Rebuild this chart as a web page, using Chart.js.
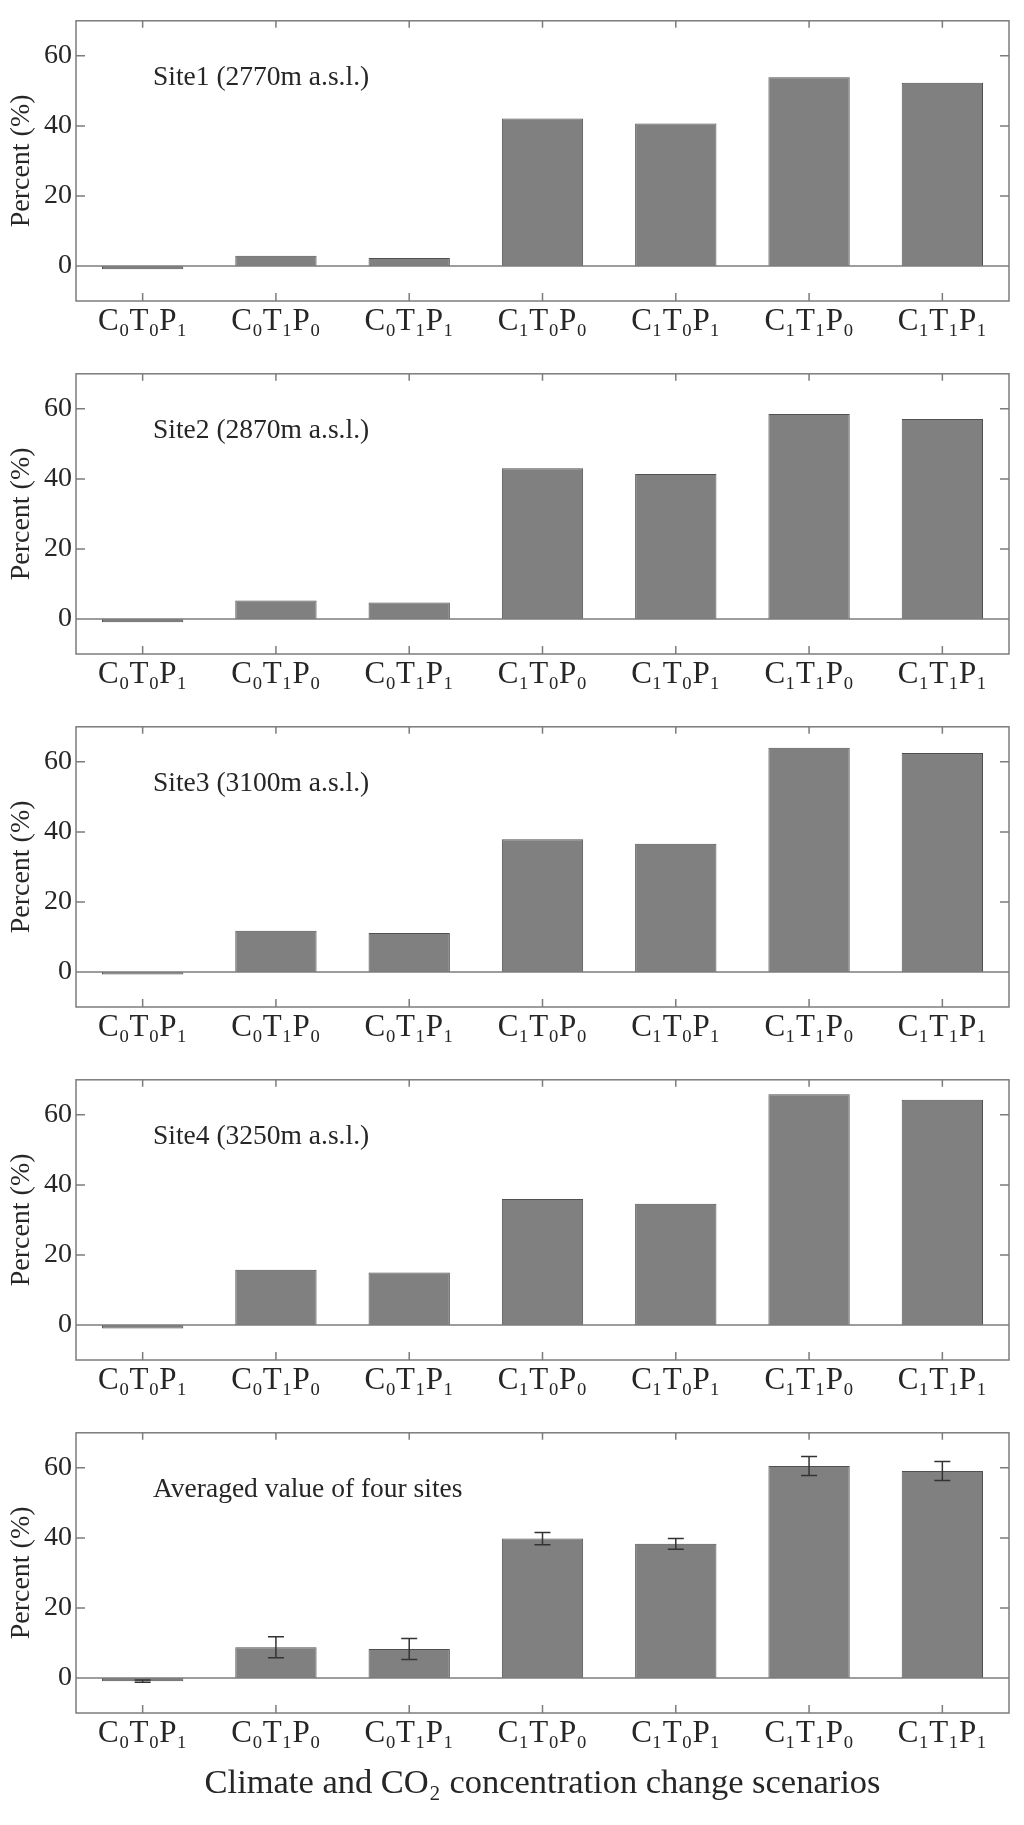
<!DOCTYPE html>
<html>
<head>
<meta charset="utf-8">
<title>Climate and CO2 scenarios</title>
<script src="https://cdn.jsdelivr.net/npm/chart.js@4.4.0/dist/chart.umd.min.js"></script>
<style>
  html, body { margin: 0; padding: 0; background: #fff; }
  #wrap { position: relative; width: 1024px; height: 1825px; }
  .panel { position: absolute; left: 0; width: 1024px; }
  canvas { display: block; }
</style>
</head>
<body>
<div id="wrap">
  <div class="panel" style="top:0px"><canvas id="c1" width="1024" height="353"></canvas></div>
  <div class="panel" style="top:353px"><canvas id="c2" width="1024" height="353"></canvas></div>
  <div class="panel" style="top:706px"><canvas id="c3" width="1024" height="353"></canvas></div>
  <div class="panel" style="top:1059px"><canvas id="c4" width="1024" height="353"></canvas></div>
  <div class="panel" style="top:1412px"><canvas id="c5" width="1024" height="413"></canvas></div>
</div>
<script>
// scenario labels (subscripts as unicode)
var scenarios = ['C₀T₀P₁', 'C₀T₁P₀', 'C₀T₁P₁', 'C₁T₀P₀', 'C₁T₀P₁', 'C₁T₁P₀', 'C₁T₁P₁'];

// percent change
var site1 = [-0.9, 2.9, 2.3, 42.1, 40.7, 53.9, 52.3];
var site2 = [-0.9, 5.3, 4.7, 43.0, 41.4, 58.5, 57.1];
var site3 = [-0.7, 11.8, 11.1, 37.9, 36.6, 64.0, 62.5];
var site4 = [-1.0, 15.8, 15.0, 36.0, 34.6, 65.9, 64.3];
var average = [-0.9, 8.8, 8.3, 39.8, 38.3, 60.5, 59.1];
var averageErr = [0.3, 3.0, 3.0, 1.75, 1.55, 2.7, 2.7];

var yTickValues = [0, 20, 40, 60];
var yMin = -10, yMax = 70;

var panelNames = ['Site1 (2770m a.s.l.)', 'Site2 (2870m a.s.l.)', 'Site3 (3100m a.s.l.)',
                  'Site4 (3250m a.s.l.)', 'Averaged value of four sites'];

var serif = "'Liberation Serif', 'Times New Roman', Times, serif";
var textColor = '#262626';
var frameColor = '#7c7c7c';

// frame, zero line, inward ticks, error bars and panel label
var panelDeco = {
    id: 'panelDeco',
    afterDatasetsDraw: function (chart, args, opts) {
        var ctx = chart.ctx;
        var area = chart.chartArea;
        var xs = chart.scales.x;
        var ys = chart.scales.y;
        ctx.save();
        ctx.strokeStyle = frameColor;
        ctx.lineWidth = 1.5;

        // zero line
        var y0 = ys.getPixelForValue(0);
        ctx.beginPath();
        ctx.moveTo(area.left, y0);
        ctx.lineTo(area.right, y0);
        ctx.stroke();

        ctx.strokeRect(area.left, area.top, area.right - area.left, area.bottom - area.top);

        // ticks pointing inwards
        ctx.beginPath();
        for (var i = 0; i < scenarios.length; i++) {
            var px = xs.getPixelForValue(i);
            ctx.moveTo(px, area.top);
            ctx.lineTo(px, area.top + 7);
            ctx.moveTo(px, area.bottom);
            ctx.lineTo(px, area.bottom - 8);
        }
        yTickValues.forEach(function (v) {
            if (v === 0) return;
            var py = ys.getPixelForValue(v);
            ctx.moveTo(area.left, py);
            ctx.lineTo(area.left + 9, py);
            ctx.moveTo(area.right, py);
            ctx.lineTo(area.right - 9, py);
        });
        ctx.stroke();

        // error bars
        if (opts.errors) {
            var meta = chart.getDatasetMeta(0);
            var vals = chart.data.datasets[0].data;
            ctx.strokeStyle = '#333';
            ctx.lineWidth = 1.5;
            ctx.beginPath();
            meta.data.forEach(function (bar, k) {
                var e = opts.errors[k];
                var top = ys.getPixelForValue(vals[k] + e);
                var bot = ys.getPixelForValue(vals[k] - e);
                ctx.moveTo(bar.x, top);
                ctx.lineTo(bar.x, bot);
                ctx.moveTo(bar.x - 8, top);
                ctx.lineTo(bar.x + 8, top);
                ctx.moveTo(bar.x - 8, bot);
                ctx.lineTo(bar.x + 8, bot);
            });
            ctx.stroke();
        }

        // panel label
        ctx.fillStyle = textColor;
        ctx.font = '27.5px ' + serif;
        ctx.textBaseline = 'alphabetic';
        ctx.textAlign = 'left';
        ctx.fillText(opts.label, area.left + 77, area.top + 64);
        ctx.restore();
    }
};

function makePanel(id, values, label, errors, isLast) {
    var ctx = document.getElementById(id).getContext('2d');
    return new Chart(ctx, {
        type: 'bar',
        data: {
            labels: scenarios,
            datasets: [{
                data: values,
                backgroundColor: '#808080',
                borderColor: '#505050',
                borderWidth: 1,
                barPercentage: 0.61,
                categoryPercentage: 1
            }]
        },
        options: {
            responsive: false,
            animation: false,
            devicePixelRatio: 1,
            layout: { padding: { top: 13, right: 15, left: 0, bottom: 0 } },
            plugins: {
                legend: { display: false },
                tooltip: { enabled: false },
                panelDeco: { label: label, errors: errors }
            },
            scales: {
                x: {
                    grid: { display: false, drawTicks: false },
                    border: { display: false },
                    ticks: { font: { family: serif, size: 31 }, color: textColor, padding: 2, maxRotation: 0 },
                    title: {
                        display: isLast,
                        text: 'Climate and CO₂ concentration change scenarios',
                        font: { family: serif, size: 34.5 },
                        color: textColor,
                        padding: { top: 0, bottom: 20 }
                    },
                    afterFit: function (scale) { scale.height = isLast ? 112 : 52; }
                },
                y: {
                    min: yMin,
                    max: yMax,
                    afterBuildTicks: function (scale) {
                        scale.ticks = yTickValues.map(function (v) { return { value: v }; });
                    },
                    grid: { display: false, drawTicks: false },
                    border: { display: false },
                    ticks: { font: { family: serif, size: 28 }, color: textColor, padding: 4 },
                    title: {
                        display: true,
                        text: 'Percent (%)',
                        font: { family: serif, size: 28 },
                        color: textColor,
                        padding: { top: 5, bottom: 0 }
                    },
                    afterFit: function (scale) { scale.width = 76; }
                }
            }
        },
        plugins: [panelDeco]
    });
}

makePanel('c1', site1, panelNames[0], null, false);
makePanel('c2', site2, panelNames[1], null, false);
makePanel('c3', site3, panelNames[2], null, false);
makePanel('c4', site4, panelNames[3], null, false);
makePanel('c5', average, panelNames[4], averageErr, true);
</script>
</body>
</html>
